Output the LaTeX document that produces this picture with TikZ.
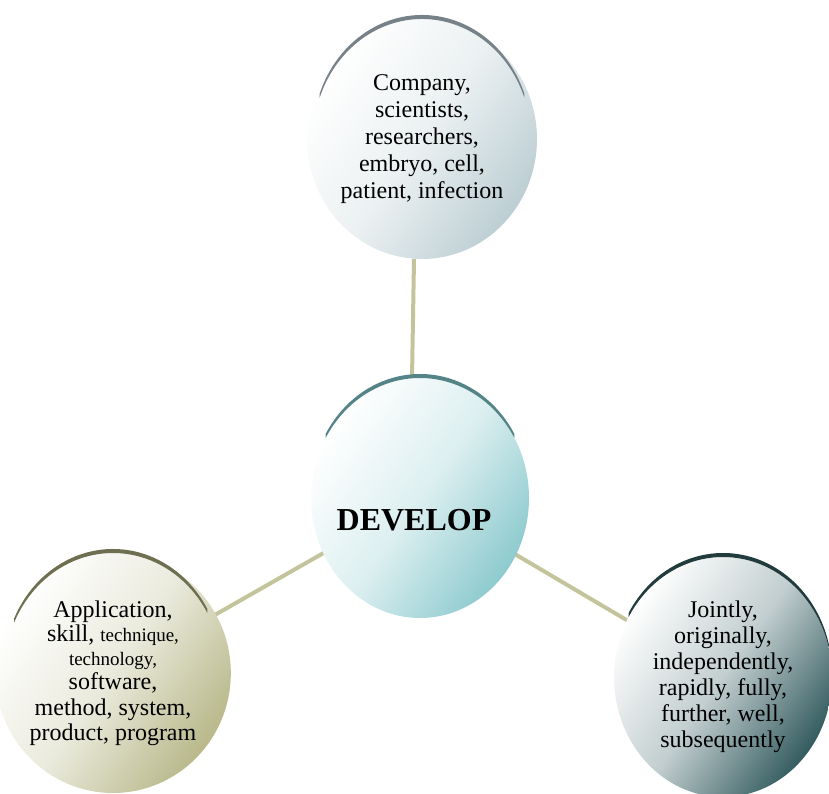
\documentclass[tikz,border=0pt]{standalone}
\usepackage{fontspec}
\setmainfont{Liberation Serif}
\usetikzlibrary{shapes.geometric,backgrounds,calc}

\definecolor{linkcol}{RGB}{196,196,156}
\definecolor{greycol}{RGB}{188,206,211}
\definecolor{greyrim}{RGB}{118,130,136}
\definecolor{tealcol}{RGB}{140,202,206}
\definecolor{tealrim}{RGB}{84,132,136}
\definecolor{olivecol}{RGB}{184,184,138}
\definecolor{oliverim}{RGB}{110,110,80}
\definecolor{slatecol}{RGB}{50,90,94}
\definecolor{slaterim}{RGB}{34,60,62}

\begin{document}
\begin{tikzpicture}[
                x=1pt, y=-1pt,                % 像素坐标
                bubble/.style={
                    ellipse,
                    minimum width=218pt,
                    minimum height=240pt,
                    inner sep=0pt,
                    outer sep=0pt,
                    align=center,
                    font=\fontsize{24}{27}\selectfont,
                    top color=white,
                    bottom color=#1,
                    middle color=#1!30,
                    shading angle=55
                },
                link/.style={draw=linkcol, line width=4pt},
                rim/.style={fill=#1}
            ]
                \useasboundingbox (0,0) rectangle (829,794);

                % 节点
                \node[bubble=greycol] (agent) at (422,139)
                    {Company,\\ scientists,\\ researchers,\\ embryo, cell,\\ patient, infection};
                \node[bubble=tealcol] (hub) at (420,498) {};
                \node[font=\bfseries\fontsize{32}{38}\selectfont] (develop) at (414,520) {DEVELOP};
                \node[bubble=olivecol, font=\fontsize{24}{24}\selectfont] (object) at (113,673)
                    {Application,\\ skill, {\fontsize{19}{20}\selectfont technique,}\\
                     {\fontsize{19}{20}\selectfont technology,}\\ software,\\[2pt]
                     method, system,\\[1pt] product, program};
                \node[bubble=slatecol, font=\fontsize{24}{26}\selectfont] (manner) at (723,677)
                    {Jointly,\\ originally,\\ independently,\\ rapidly, fully,\\ further, well,\\ subsequently};

                % 边缘
                \fill[rim=greyrim] ($(agent.center)+(160:109pt and 120pt)+(0,-4)$)
                    arc[start angle=160, end angle=20, x radius=109pt, y radius=120pt]
                    -- ($(agent.center)+(20:109pt and 120pt)$)
                    arc[start angle=20, end angle=160, x radius=109pt, y radius=120pt] -- cycle;
                \fill[rim=tealrim] ($(hub.center)+(150:109pt and 120pt)+(0,-4)$)
                    arc[start angle=150, end angle=30, x radius=109pt, y radius=120pt]
                    -- ($(hub.center)+(30:109pt and 120pt)$)
                    arc[start angle=30, end angle=150, x radius=109pt, y radius=120pt] -- cycle;
                \fill[rim=oliverim] ($(object.center)+(155:109pt and 120pt)+(0,-4)$)
                    arc[start angle=155, end angle=30, x radius=109pt, y radius=120pt]
                    -- ($(object.center)+(30:109pt and 120pt)$)
                    arc[start angle=30, end angle=155, x radius=109pt, y radius=120pt] -- cycle;
                \fill[rim=slaterim] ($(manner.center)+(150:109pt and 120pt)+(0,-4)$)
                    arc[start angle=150, end angle=-5, x radius=109pt, y radius=120pt]
                    -- ($(manner.center)+(-5:109pt and 120pt)$)
                    arc[start angle=-5, end angle=150, x radius=109pt, y radius=120pt] -- cycle;

                % 边
                \begin{scope}[on background layer]
                    \draw[link] ([xshift=-8pt]hub.north) -- ([xshift=-8pt]agent.south);
                    \draw[link] (hub.center) -- (object.center);
                    \draw[link] (hub.center) -- (manner.center);
                \end{scope}
            \end{tikzpicture}
\end{document}
